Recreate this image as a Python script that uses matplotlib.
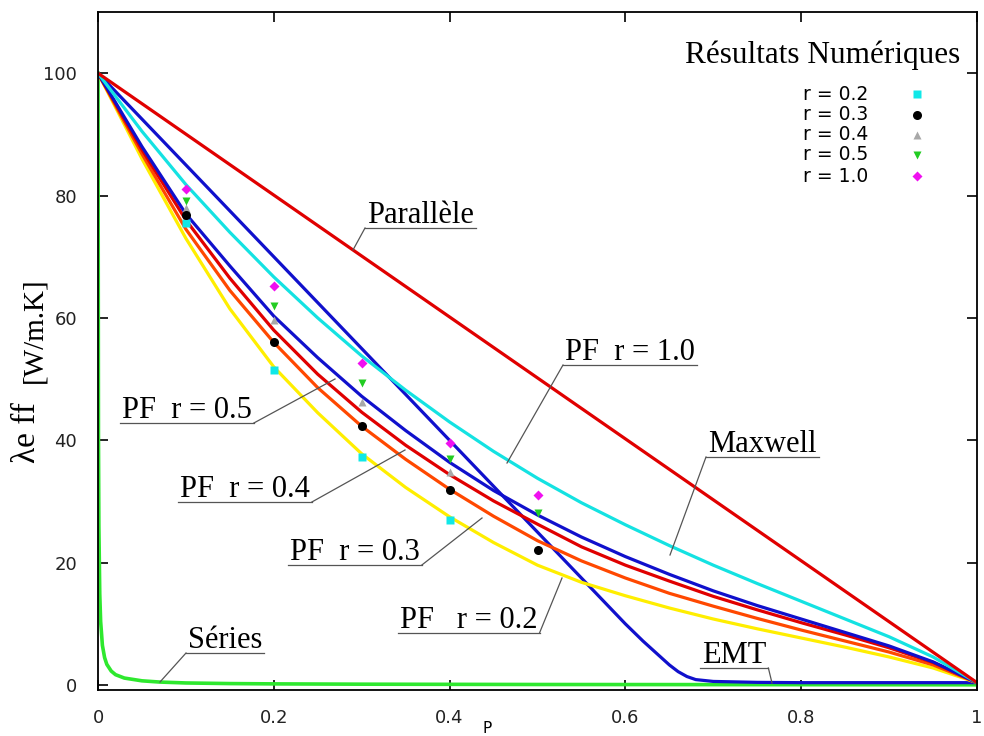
import matplotlib
matplotlib.use("Agg")
import matplotlib.pyplot as plt
from matplotlib.lines import Line2D

# ---------------------------------------------------------------------------
# Effective thermal conductivity versus porosity P
# ---------------------------------------------------------------------------
P_grid = [0.00, 0.05, 0.10, 0.15, 0.20, 0.25, 0.30, 0.35, 0.40, 0.45, 0.50,
          0.55, 0.60, 0.65, 0.70, 0.75, 0.80, 0.85, 0.90, 0.95, 1.00]

parallel_P = [0.0, 1.0]
parallel = [100.0, 0.4]

maxwell_pf10 = [100.0, 90.5, 81.8, 74.0, 66.7, 60.0, 53.8, 48.2, 43.0, 38.2, 33.8,
                29.8, 26.2, 22.8, 19.6, 16.6, 13.7, 10.8, 7.9, 4.6, 0.4]
pf_r05 = [100.0, 88.0, 77.0, 68.5, 60.3, 53.5, 47.2, 41.6, 36.4, 31.8, 27.8,
          24.2, 21.0, 18.1, 15.4, 13.0, 10.8, 8.6, 6.4, 3.8, 0.4]
pf_r04 = [100.0, 87.5, 76.0, 66.5, 58.0, 50.8, 44.6, 39.2, 34.4, 30.1, 26.3,
          22.6, 19.6, 17.0, 14.5, 12.3, 10.2, 8.2, 6.1, 3.7, 0.4]
pf_r03 = [100.0, 86.8, 74.5, 64.5, 56.0, 48.6, 42.3, 36.9, 32.0, 27.6, 23.6,
          20.3, 17.5, 15.0, 12.9, 10.9, 9.0, 7.2, 5.4, 3.3, 0.4]
pf_r02 = [100.0, 86.0, 73.0, 61.5, 52.0, 44.5, 37.8, 32.3, 27.5, 23.3, 19.6,
          16.8, 14.6, 12.6, 10.8, 9.2, 7.7, 6.2, 4.6, 2.8, 0.4]

emt_P = [0.0, 0.1, 0.2, 0.3, 0.4, 0.5, 0.6, 0.62, 0.64, 0.65, 0.66, 0.67,
         0.68, 0.70, 0.75, 0.80, 0.90, 1.0]
emt = [100.0, 85.0, 70.0, 55.0, 40.0, 25.0, 10.0, 7.2, 4.6, 3.3, 2.2, 1.4,
       0.9, 0.6, 0.45, 0.4, 0.4, 0.4]

series_P = [0.0, 0.0005, 0.001, 0.002, 0.003, 0.005, 0.0075, 0.01, 0.015, 0.02,
            0.03, 0.05, 0.07, 0.10, 0.15, 0.20, 0.30, 0.50, 0.70, 1.00]
series = [100.0, 41.0, 25.9, 14.9, 10.4, 6.5, 4.5, 3.4, 2.3, 1.7,
          1.15, 0.70, 0.50, 0.35, 0.25, 0.20, 0.15, 0.10, 0.08, 0.05]

# Numerical results
sim_P = [0.1, 0.2, 0.3, 0.4, 0.5]
sim_r02_P = [0.1, 0.2, 0.3, 0.4]
sim_r02 = [75.5, 51.5, 37.3, 27.0]
sim_r03 = [76.8, 56.0, 42.3, 31.9, 22.1]
sim_r04_P = [0.1, 0.2, 0.3, 0.4]
sim_r04 = [78.0, 59.6, 46.2, 34.9]
sim_r05 = [79.1, 61.9, 49.3, 36.9, 28.1]
sim_r10 = [81.0, 65.3, 52.6, 39.5, 31.0]

legend_labels = ["r = 0.2", "r = 0.3", "r = 0.4", "r = 0.5", "r = 1.0"]

x_ticks = [0, 0.2, 0.4, 0.6, 0.8, 1]
x_ticklabels = ["0", "0.2", "0.4", "0.6", "0.8", "1"]
y_ticks = [0, 20, 40, 60, 80, 100]

# ---------------------------------------------------------------------------
SERIF = ["Liberation Serif", "DejaVu Serif"]
SANS = ["DejaVu Sans"]

W, H = 984, 736
fig = plt.figure(figsize=(W / 100, H / 100), dpi=100)
ax = fig.add_axes([98 / W, 46 / H, 879 / W, 678 / H])
ax.set_xlim(0, 1)
ax.set_ylim(-0.8, 110)

c_red = "#e00000"
c_blue = "#1010cc"
c_cyan = "#14e2e2"
c_orange = "#ff4800"
c_yellow = "#ffee00"
c_green = "#2ee82e"
lw = 2.3

ax.plot(series_P, series, color=c_green, lw=2.6, zorder=2)
ax.plot(emt_P, emt, color=c_blue, lw=lw, zorder=2)
ax.plot(P_grid, pf_r02, color=c_yellow, lw=lw, zorder=2)
ax.plot(P_grid, pf_r03, color=c_orange, lw=lw, zorder=2)
ax.plot(P_grid, pf_r04, color=c_red, lw=lw, zorder=2)
ax.plot(P_grid, pf_r05, color=c_blue, lw=lw, zorder=2)
ax.plot(P_grid, maxwell_pf10, color=c_cyan, lw=lw, zorder=2)
ax.plot(parallel_P, parallel, color=c_red, lw=lw, zorder=2)

# Simulation markers
mk = [
    (sim_r04_P, sim_r04, dict(marker="^", color="#a8a8a8", ms=5.5)),
    (sim_r02_P, sim_r02, dict(marker="s", color="#10e8e8", ms=6)),
    (sim_P, sim_r03, dict(marker="o", color="black", ms=6.5)),
    (sim_P, sim_r05, dict(marker="v", color="#22cc22", ms=6)),
    (sim_P, sim_r10, dict(marker="D", color="#f010f0", ms=5)),
]
for xs, ys, st in mk:
    ax.plot(xs, ys, ls="none", mec="none", zorder=4, **st)

# Axes styling
for s in ax.spines.values():
    s.set_linewidth(1.3)
ax.set_xticks(x_ticks)
ax.set_xticklabels(x_ticklabels)
ax.set_yticks(y_ticks)
ax.tick_params(direction="in", length=7, width=1.2, top=True, right=True,
               labelsize=13, colors="black")
ax.tick_params(axis="x", pad=14)
ax.tick_params(axis="y", pad=15)
for lab in ax.get_xticklabels() + ax.get_yticklabels():
    lab.set_family(SANS)
    lab.set_color("#222222")

ax.set_xlabel("P", fontsize=11, family=SANS, labelpad=0)
ax.xaxis.set_label_coords(0.443, -0.045)

# y-axis label in two parts
fig.text(27 / W, 1 - 433 / H, "λe ff", rotation=90, family=SERIF, fontsize=24,
         ha="center", va="center")
fig.text(34 / W, 1 - 330 / H, "[W/m.K]", rotation=90, family=SERIF, fontsize=21,
         ha="center", va="center")

# Legend block: title and marker keys
fig.text(685 / W, 1 - 63 / H, "Résultats Numériques", family=SERIF, fontsize=22.5,
         ha="left", va="baseline")
key_rows = [94, 115, 135, 155, 176]
for (xs, ys, st), lab, ry in zip([mk[1], mk[2], mk[0], mk[3], mk[4]],
                                 legend_labels, key_rows):
    fig.text(868 / W, 1 - ry / H, lab, family=SANS, fontsize=13.5,
             ha="right", va="center")
    fig.add_artist(Line2D([917 / W], [1 - ry / H], ls="none", mec="none",
                          transform=fig.transFigure, **st))

# Curve annotations: text, underline, leader line (pixel layout)
notes = [
    ("Parallèle", 367, 223, "left", (353, 250)),
    ("PF  r = 1.0", 565, 360, "left", (507, 463)),
    ("Maxwell", 708, 452, "left", (670, 555)),
    ("PF  r = 0.5", 122, 418, "right", (335, 379)),
    ("PF  r = 0.4", 180, 497, "right", (405, 450)),
    ("PF  r = 0.3", 290, 560, "right", (482, 518)),
    ("PF   r = 0.2", 400, 628, "right", (562, 578)),
    ("Séries", 188, 648, "left", (160, 682)),
    ("EMT", 702, 663, "right", (772, 683)),
]
fig.canvas.draw()
renderer = fig.canvas.get_renderer()
for txt, lx, by, side, (tx, ty) in notes:
    t = fig.text(lx / W, 1 - by / H, txt, family=SERIF, fontsize=22,
                 ha="left", va="baseline", zorder=5)
    bb = t.get_window_extent(renderer)
    x0 = bb.x0 - 2
    x1 = bb.x1 + 2
    uy = H - (by + 5)
    fig.add_artist(Line2D([x0 / W, x1 / W], [uy / H, uy / H], color="#555555",
                          lw=0.9, transform=fig.transFigure))
    sx = x0 if side == "left" else x1
    fig.add_artist(Line2D([sx / W, tx / W], [uy / H, 1 - ty / H], color="#555555",
                          lw=0.9, transform=fig.transFigure))

fig.savefig("out.png", dpi=100)
